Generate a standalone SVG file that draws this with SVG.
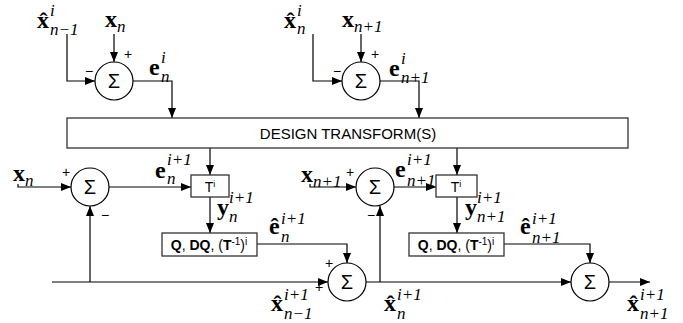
<svg xmlns="http://www.w3.org/2000/svg" width="683" height="323" viewBox="0 0 683 323">
<style>
.m{font-family:"Liberation Serif","Times New Roman",serif;font-weight:bold;font-size:24px;fill:#000}
.s{font-family:"Liberation Serif","Times New Roman",serif;font-style:italic;font-size:17px;fill:#000}
.sg{font-family:"Liberation Sans",sans-serif;font-size:14px;text-anchor:middle;fill:#000}
.sig{font-family:"Liberation Sans",sans-serif;font-size:20px;text-anchor:middle;fill:#000}
.bx{fill:#fff;stroke:#333;stroke-width:1.3}
.cir{fill:#fff;stroke:#000;stroke-width:1.2}
.bt{font-family:"Liberation Sans",sans-serif;font-size:15px;text-anchor:middle;fill:#000}
.qt{font-family:"Liberation Sans",sans-serif;font-size:14px;text-anchor:middle;fill:#000}
.ar{fill:none;stroke:#000;stroke-width:1.2;marker-end:url(#a)}
</style>
<defs>
<marker id="a" viewBox="0 0 10 8" refX="10" refY="4" markerWidth="10" markerHeight="8" markerUnits="userSpaceOnUse" orient="auto">
<path d="M0 0L10 4L0 8z" fill="#000"/>
</marker>
</defs>
<g id="connectors">
<path class="ar" d="M67 34V81H95"/>
<path class="ar" d="M114 34V62"/>
<path class="ar" d="M133 81H172V118"/>
<path class="ar" d="M313 34V81H342"/>
<path class="ar" d="M361 34V62"/>
<path class="ar" d="M380 81H419V118"/>
<path class="ar" d="M210 148V175"/>
<path class="ar" d="M457 148V175"/>
<path class="ar" d="M18 184V187H71"/>
<path class="ar" d="M109 187H191"/>
<path class="ar" d="M210 197V233"/>
<path class="ar" d="M257 244H347V263"/>
<path class="ar" d="M52 282H328"/>
<path class="ar" d="M90 282V206"/>
<path class="ar" d="M310 184V187H356"/>
<path class="ar" d="M394 187H436"/>
<path class="ar" d="M457 197V233"/>
<path class="ar" d="M504 244H590V263"/>
<path class="ar" d="M366 282H571"/>
<path class="ar" d="M380 282V206"/>
<path class="ar" d="M609 282H650"/>
</g>
<g id="design">
<rect class="bx" x="67" y="118" width="561" height="30"/>
<text class="bt" x="348" y="138.5">DESIGN TRANSFORM(S)</text>
</g>
<g id="sum1"><circle class="cir" cx="114" cy="81" r="19"/><text class="sig" x="114" y="88">Σ</text></g>
<g id="sum2"><circle class="cir" cx="361" cy="81" r="19"/><text class="sig" x="361" y="88">Σ</text></g>
<g id="sum3"><circle class="cir" cx="90" cy="187" r="19"/><text class="sig" x="90" y="194">Σ</text></g>
<g id="sum4"><circle class="cir" cx="375" cy="187" r="19"/><text class="sig" x="375" y="194">Σ</text></g>
<g id="sum5"><circle class="cir" cx="347" cy="282" r="19"/><text class="sig" x="347" y="289">Σ</text></g>
<g id="sum6"><circle class="cir" cx="590" cy="282" r="19"/><text class="sig" x="590" y="289">Σ</text></g>
<g id="t1"><rect class="bx" x="191" y="175" width="38" height="22"/><text class="qt" x="210" y="191.5">T<tspan font-size="9" dy="-5">i</tspan></text></g>
<g id="t2"><rect class="bx" x="436" y="175" width="41" height="22"/><text class="qt" x="456" y="191.5">T<tspan font-size="9" dy="-5">i</tspan></text></g>
<g id="q1"><rect class="bx" x="162" y="233" width="95" height="23"/><text class="qt" x="209" y="249.5"><tspan font-weight="bold">Q</tspan>, <tspan font-weight="bold">DQ</tspan>, (<tspan font-weight="bold">T</tspan><tspan font-size="10" dy="-5">-1</tspan><tspan dy="5">)</tspan><tspan font-size="10" dy="-5">i</tspan></text></g>
<g id="q2"><rect class="bx" x="409" y="233" width="95" height="23"/><text class="qt" x="456" y="249.5"><tspan font-weight="bold">Q</tspan>, <tspan font-weight="bold">DQ</tspan>, (<tspan font-weight="bold">T</tspan><tspan font-size="10" dy="-5">-1</tspan><tspan dy="5">)</tspan><tspan font-size="10" dy="-5">i</tspan></text></g>
<g id="signs">
<text class="sg" x="89" y="76">−</text><text class="sg" x="128" y="59">+</text>
<text class="sg" x="337" y="76">−</text><text class="sg" x="375" y="59">+</text>
<text class="sg" x="66" y="177">+</text><text class="sg" x="105" y="220">−</text>
<text class="sg" x="350" y="177">+</text><text class="sg" x="371" y="220">−</text>
<text class="sg" x="329" y="268">+</text><text class="sg" x="319" y="292">+</text>
</g>
<g id="labels">
<text class="m" x="37" y="28">x̂</text><text class="s" x="50" y="16">i</text><text class="s" x="50" y="35">n−1</text>
<text class="m" x="105" y="27">x</text><text class="s" x="117" y="32">n</text>
<text class="m" x="149" y="75">e</text><text class="s" x="161" y="63">i</text><text class="s" x="161" y="82">n</text>
<text class="m" x="284" y="28">x̂</text><text class="s" x="297" y="16">i</text><text class="s" x="297" y="34">n</text>
<text class="m" x="342" y="27">x</text><text class="s" x="354" y="32">n+1</text>
<text class="m" x="389" y="76">e</text><text class="s" x="401" y="64">i</text><text class="s" x="401" y="83">n+1</text>
<text class="m" x="13" y="181">x</text><text class="s" x="25" y="186">n</text>
<text class="m" x="155" y="178">e</text><text class="s" x="167" y="165">i+1</text><text class="s" x="167" y="184">n</text>
<text class="m" x="217" y="215">y</text><text class="s" x="229" y="203">i+1</text><text class="s" x="229" y="222">n</text>
<text class="m" x="269" y="234">ê</text><text class="s" x="281" y="224">i+1</text><text class="s" x="281" y="242">n</text>
<text class="m" x="301" y="182">x</text><text class="s" x="313" y="187">n+1</text>
<text class="m" x="395" y="177">e</text><text class="s" x="407" y="165">i+1</text><text class="s" x="407" y="186">n+1</text>
<text class="m" x="465" y="215">y</text><text class="s" x="477" y="203">i+1</text><text class="s" x="477" y="222">n+1</text>
<text class="m" x="520" y="234">ê</text><text class="s" x="532" y="224">i+1</text><text class="s" x="532" y="243">n+1</text>
<text class="m" x="271" y="311">x̂</text><text class="s" x="284" y="300">i+1</text><text class="s" x="284" y="319">n−1</text>
<text class="m" x="384" y="311">x̂</text><text class="s" x="397" y="300">i+1</text><text class="s" x="397" y="319">n</text>
<text class="m" x="627" y="311">x̂</text><text class="s" x="640" y="300">i+1</text><text class="s" x="640" y="319">n+1</text>
</g>
</svg>
